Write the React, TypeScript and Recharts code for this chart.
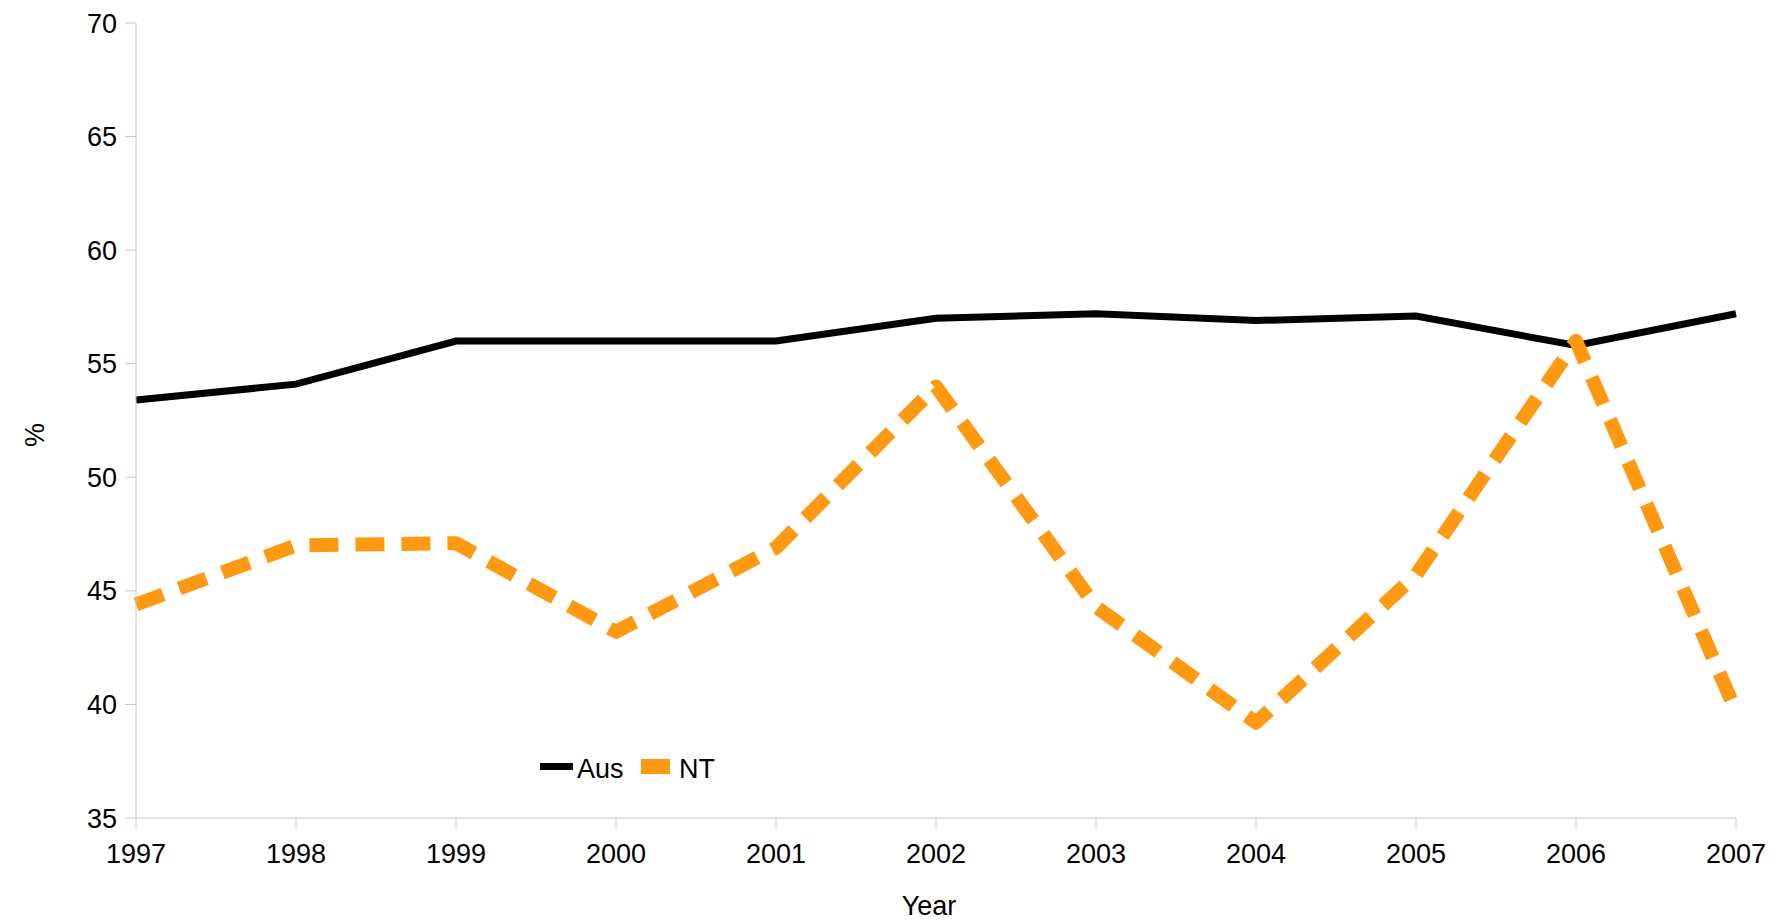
import React from "react";
import { LineChart, Line, XAxis, YAxis, Legend, Label } from "recharts";

const YEARS = ["1997", "1998", "1999", "2000", "2001", "2002", "2003", "2004", "2005", "2006", "2007"];
const AUS = [53.4, 54.1, 56.0, 56.0, 56.0, 57.0, 57.2, 56.9, 57.1, 55.8, 57.2];
const NT = [44.4, 47.0, 47.1, 43.2, 46.9, 54.0, 44.3, 39.2, 45.7, 56.0, 39.7];
const Y_TICKS = [35, 40, 45, 50, 55, 60, 65, 70];

const FONT = "'Liberation Sans', Arial, sans-serif";
const AXIS_COLOR = "#c8c8c8";
const ORANGE = "#ff9912";
const FS = 27;

const data = YEARS.map((year, i) => ({ year, Aus: AUS[i], NT: NT[i] }));

function LegendContent(props: any) {
  const items = props.payload || [];
  return (
    <svg width={200} height={40} style={{ overflow: "visible", display: "block" }}>
      {items.map((item: any, i: number) => {
        const x = i === 0 ? 0 : 101;
        const isLine = item.value === "Aus";
        return (
          <g key={item.value}>
            {isLine ? (
              <rect x={x} y={16} width={33} height={7} fill={item.color} />
            ) : (
              <rect x={x} y={12} width={29} height={15} fill={item.color} />
            )}
            <text
              x={x + (isLine ? 37 : 38)}
              y={31}
              fontSize={FS}
              fontFamily={FONT}
              fill="#000"
            >
              {item.value}
            </text>
          </g>
        );
      })}
    </svg>
  );
}

export default function App() {
  return (
    <div style={{ position: "absolute", left: 0, top: 0, width: 1776, height: 921, background: "#fff" }}>
      <LineChart
        width={1776}
        height={921}
        data={data}
        margin={{ top: 23, right: 40, left: 0, bottom: 0 }}
        style={{ fontFamily: FONT }}
      >
        <XAxis
          dataKey="year"
          height={103}
          axisLine={{ stroke: AXIS_COLOR }}
          tickLine={{ stroke: AXIS_COLOR }}
          tickSize={11}
          tickMargin={15}
          tick={{ fill: "#000", fontSize: FS, fontFamily: FONT }}
          interval={0}
        >
          <Label
            content={(p: any) => {
              const vb = p.viewBox;
              return (
                <text
                  x={vb.x + vb.width / 2 - 7}
                  y={915}
                  textAnchor="middle"
                  fontSize={FS}
                  fontFamily={FONT}
                  fill="#000"
                >
                  Year
                </text>
              );
            }}
          />
        </XAxis>
        <YAxis
          width={136}
          domain={[35, 70]}
          ticks={Y_TICKS}
          axisLine={{ stroke: AXIS_COLOR }}
          tickLine={{ stroke: AXIS_COLOR }}
          tickSize={11}
          tickMargin={8}
          tick={{ fill: "#000", fontSize: FS, fontFamily: FONT }}
          interval={0}
        >
          <Label
            content={() => (
              <text
                x={0}
                y={0}
                transform="translate(44, 435) rotate(-90)"
                textAnchor="middle"
                fontSize={FS}
                fontFamily={FONT}
                fill="#000"
              >
                %
              </text>
            )}
          />
        </YAxis>
        <Legend
          content={<LegendContent />}
          wrapperStyle={{ position: "absolute", left: 540, top: 747, width: 0, height: 0, overflow: "visible" }}
        />
        <Line
          type="linear"
          dataKey="Aus"
          name="Aus"
          stroke="#000"
          strokeWidth={7}
          dot={false}
          activeDot={false}
          isAnimationActive={false}
        />
        <Line
          type="linear"
          dataKey="NT"
          name="NT"
          stroke={ORANGE}
          strokeWidth={14}
          strokeDasharray="29 17"
          strokeLinejoin="round"
          dot={false}
          activeDot={false}
          isAnimationActive={false}
        />
      </LineChart>
    </div>
  );
}
